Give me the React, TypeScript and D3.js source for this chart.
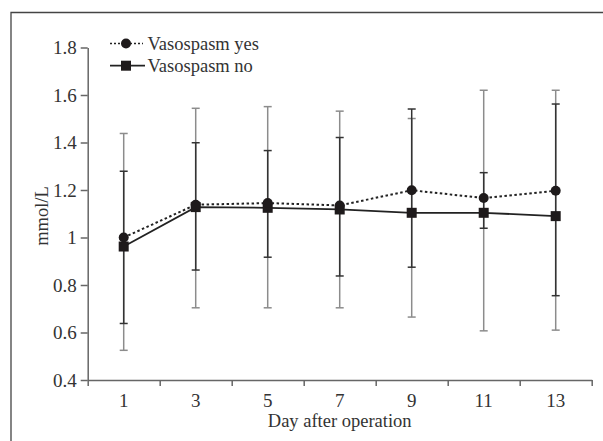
import { useEffect, useRef } from "react";
import * as d3 from "d3";

// Day after operation (odd days only are labelled)
const days = [1, 3, 5, 7, 9, 11, 13];
const yTicks = [0.4, 0.6, 0.8, 1, 1.2, 1.4, 1.6, 1.8];

// Vasospasm yes: dotted line, circles, gray bars
const yesMean = [1.0, 1.138, 1.145, 1.135, 1.199, 1.166, 1.197];
const yesUpper = [1.438, 1.544, 1.551, 1.532, 1.501, 1.62, 1.62];
const yesLower = [0.525, 0.704, 0.704, 0.704, 0.665, 0.607, 0.61];

// Vasospasm no: solid line, squares, dark bars
const noMean = [0.962, 1.128, 1.125, 1.118, 1.104, 1.104, 1.09];
const noUpper = [1.279, 1.399, 1.366, 1.421, 1.541, 1.273, 1.562];
const noLower = [0.638, 0.863, 0.917, 0.838, 0.875, 1.039, 0.755];

const FONT = "'Liberation Serif', 'Times New Roman', serif";

export default function App() {
  const svgRef = useRef<SVGSVGElement>(null);

  useEffect(() => {
    const svg = d3.select(svgRef.current);
    svg.selectAll("*").remove();
    const width = 603;
    const height = 441;
    const margin = { top: 47.5, right: 11.3, bottom: 61, left: 87.7 };

    const x = d3
      .scaleLinear()
      .domain([0, 14])
      .range([margin.left, width - margin.right]);
    const y = d3
      .scaleLinear()
      .domain([0.4, 1.8])
      .range([height - margin.bottom, margin.top]);

    // outer frame (left + top only)
    svg
      .append("path")
      .attr("d", `M11,441 V12.5 H603`)
      .attr("fill", "none")
      .attr("stroke", "#444")
      .attr("stroke-width", 1.3);

    // x axis: ticks at even values, labels at odd days
    const xAxis = svg
      .append("g")
      .attr("transform", `translate(0, ${y(0.4)})`)
      .call(
        d3
          .axisBottom(x)
          .tickValues(d3.range(0, 15, 2))
          .tickFormat(() => "")
          .tickSize(6)
          .tickSizeOuter(0)
      );
    xAxis.selectAll("path, line").attr("stroke", "#666").attr("stroke-width", 1.5);

    svg
      .append("g")
      .selectAll("text")
      .data(days)
      .enter()
      .append("text")
      .attr("x", (d) => x(d))
      .attr("y", 407)
      .attr("text-anchor", "middle")
      .attr("font-family", FONT)
      .attr("font-size", 19)
      .attr("fill", "#333")
      .text((d) => d);

    // y axis
    const yAxis = svg
      .append("g")
      .attr("transform", `translate(${margin.left}, 0)`)
      .call(
        d3
          .axisLeft(y)
          .tickValues(yTicks)
          .tickFormat((d) => String(d))
          .tickSize(7)
          .tickSizeOuter(0)
          .tickPadding(4)
      );
    yAxis.selectAll("path, line").attr("stroke", "#666").attr("stroke-width", 1.5);
    yAxis
      .selectAll("text")
      .attr("font-family", FONT)
      .attr("font-size", 19)
      .attr("fill", "#333");

    // axis titles
    svg
      .append("text")
      .attr("x", x(7))
      .attr("y", 427)
      .attr("text-anchor", "middle")
      .attr("font-family", FONT)
      .attr("font-size", 18.5)
      .attr("fill", "#333")
      .text("Day after operation");

    svg
      .append("text")
      .attr("transform", `translate(48, 216) rotate(-90)`)
      .attr("text-anchor", "middle")
      .attr("font-family", FONT)
      .attr("font-size", 18.5)
      .attr("fill", "#333")
      .text("mmol/L");

    // error bars
    const drawBars = (upper: number[], lower: number[], color: string) => {
      const g = svg.append("g").attr("stroke", color).attr("stroke-width", 1.5);
      days.forEach((d, i) => {
        g.append("line")
          .attr("x1", x(d))
          .attr("x2", x(d))
          .attr("y1", y(upper[i]))
          .attr("y2", y(lower[i]));
        [upper[i], lower[i]].forEach((v) => {
          g.append("line")
            .attr("x1", x(d) - 4)
            .attr("x2", x(d) + 4)
            .attr("y1", y(v))
            .attr("y2", y(v));
        });
      });
    };
    drawBars(yesUpper, yesLower, "#8c8c8c");
    drawBars(noUpper, noLower, "#333");

    const line = d3
      .line<number>()
      .x((_, i) => x(days[i]))
      .y((v) => y(v));

    svg
      .append("path")
      .datum(noMean)
      .attr("d", line)
      .attr("fill", "none")
      .attr("stroke", "#222")
      .attr("stroke-width", 1.8);

    svg
      .append("path")
      .datum(yesMean)
      .attr("d", line)
      .attr("fill", "none")
      .attr("stroke", "#222")
      .attr("stroke-width", 2)
      .attr("stroke-dasharray", "2.5,2.5");

    // markers
    svg
      .selectAll(".sq")
      .data(noMean)
      .enter()
      .append("rect")
      .attr("x", (_, i) => x(days[i]) - 5)
      .attr("y", (v) => y(v) - 5)
      .attr("width", 10)
      .attr("height", 10)
      .attr("fill", "#1e1a1b");

    svg
      .selectAll(".dot")
      .data(yesMean)
      .enter()
      .append("circle")
      .attr("cx", (_, i) => x(days[i]))
      .attr("cy", (v) => y(v))
      .attr("r", 5)
      .attr("fill", "#1e1a1b");

    // legend
    const lg = svg.append("g");
    lg.append("line")
      .attr("x1", 110)
      .attr("x2", 143)
      .attr("y1", 43.5)
      .attr("y2", 43.5)
      .attr("stroke", "#222")
      .attr("stroke-width", 1.5)
      .attr("stroke-dasharray", "2,2");
    lg.append("circle").attr("cx", 126).attr("cy", 43.5).attr("r", 5).attr("fill", "#1e1a1b");
    lg.append("line")
      .attr("x1", 110)
      .attr("x2", 145)
      .attr("y1", 65.7)
      .attr("y2", 65.7)
      .attr("stroke", "#222")
      .attr("stroke-width", 1.8);
    lg.append("rect")
      .attr("x", 121)
      .attr("y", 60.7)
      .attr("width", 10)
      .attr("height", 10)
      .attr("fill", "#1e1a1b");
    [
      ["Vasospasm yes", 50],
      ["Vasospasm no", 72],
    ].forEach(([label, ty]) => {
      lg.append("text")
        .attr("x", 147.5)
        .attr("y", ty as number)
        .attr("font-family", FONT)
        .attr("font-size", 18.5)
        .attr("fill", "#333")
        .text(label as string);
    });
  }, []);

  return (
    <svg
      ref={svgRef}
      width={603}
      height={441}
      style={{ position: "absolute", left: 0, top: 0, background: "#fff" }}
    ></svg>
  );
}
